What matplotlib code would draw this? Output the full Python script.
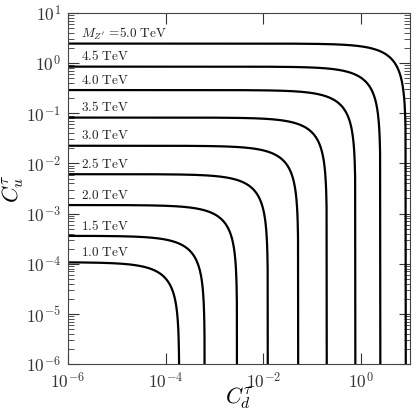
import numpy as np
import matplotlib
matplotlib.use("Agg")
import matplotlib.pyplot as plt
from matplotlib.ticker import LogLocator, NullLocator

# ==========================================
# DATA
# ==========================================

masses = [1.0, 1.5, 2.0, 2.5, 3.0, 3.5, 4.0, 4.5, 5.0]

# value of C_u where C_d -> 0 (horizontal branch)
cu_max = [1.07e-4, 3.6e-4, 1.48e-3, 6.1e-3, 2.25e-2, 8.2e-2, 0.29, 0.85, 2.45]

# value of C_d where C_u -> 0 (vertical branch)
cd_max = [1.9e-4, 6.3e-4, 2.9e-3, 1.24e-2, 5.2e-2, 0.2, 0.77, 2.5, 8.3]

x_ticks = [1e-6, 1e-4, 1e-2, 1e0]

# ==========================================
# STYLE
# ==========================================

plt.rcParams['mathtext.fontset'] = 'cm'
plt.rcParams['font.family'] = 'serif'
plt.rcParams['font.serif'] = ['cmr10', 'DejaVu Serif']
plt.rcParams['axes.formatter.use_mathtext'] = True

fig = plt.figure(figsize=(4.17, 4.17), dpi=100)
ax = fig.add_axes([0.163, 0.127, 0.820, 0.842])

# ==========================================
# CONTOURS: C_u / cu_max + C_d / cd_max = 1
# ==========================================

for m, b, a in zip(masses, cu_max, cd_max):
    xs = np.logspace(-6.5, np.log10(a), 800)
    ys = b * (1 - xs / a)
    ys = np.clip(ys, 1e-9, None)
    ax.plot(xs, ys, color='black', lw=1.6, solid_capstyle='butt')

    if m == masses[-1]:
        label = r'$M_{Z^{\prime}}\,=\!\mathrm{%.1f\ TeV}$' % m
    else:
        label = r'$\mathrm{%.1f\ TeV}$' % m
    ax.annotate(label, xy=(1.85e-6, b), xytext=(0, 4.5),
                textcoords='offset points', fontsize=9.5,
                ha='left', va='baseline', color='#222222')

# ==========================================
# AXES
# ==========================================

ax.set_xscale('log')
ax.set_yscale('log')
ax.set_xlim(1e-6, 1e1)
ax.set_ylim(1e-6, 1e1)

ax.xaxis.set_major_locator(plt.FixedLocator(x_ticks))
ax.xaxis.set_minor_locator(NullLocator())
ax.yaxis.set_major_locator(LogLocator(base=10, numticks=20))
ax.yaxis.set_minor_locator(LogLocator(base=10, subs=np.arange(2, 10), numticks=20))

ax.tick_params(which='both', direction='in', top=True, right=True,
               labelsize=12.5, colors='#333333')
ax.tick_params(which='major', length=8, width=0.8, pad=5)
ax.tick_params(which='minor', length=4, width=0.6)

for s in ax.spines.values():
    s.set_linewidth(0.8)
    s.set_color('#444444')

ax.set_xlabel(r'$C_d^{\tau}$', fontsize=16, labelpad=-4)
ax.set_ylabel(r'$C_u^{\tau}$', fontsize=16, labelpad=0)

fig.savefig('out.png', dpi=100)
